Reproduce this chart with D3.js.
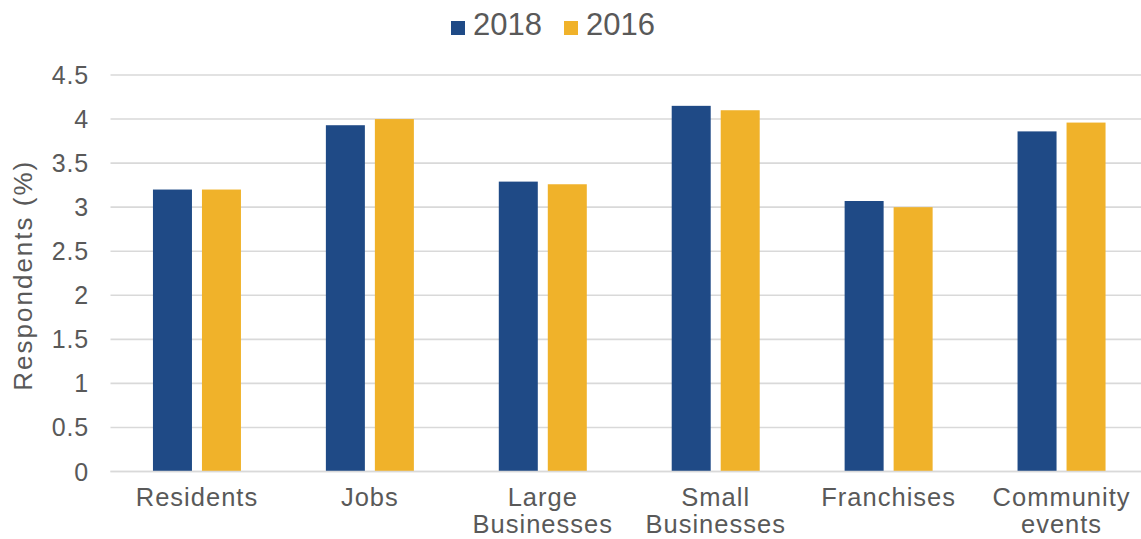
<!DOCTYPE html>
<html>
<head>
<meta charset="utf-8">
<script src="https://cdn.jsdelivr.net/npm/d3@7"></script>
<style>
  html, body { margin: 0; padding: 0; background: #fff; }
  svg { display: block; font-family: "Liberation Sans", Arial, sans-serif; }
</style>
</head>
<body>
<svg id="chart" width="1141" height="539"></svg>
<script>
// Survey categories (multi-line labels split on "\n")
const categories = ["Residents", "Jobs", "Large\nBusinesses", "Small\nBusinesses", "Franchises", "Community\nevents"];
const seriesNames = ["2018", "2016"];
const values2018 = [3.2, 3.93, 3.29, 4.15, 3.07, 3.86];
const values2016 = [3.2, 4.0, 3.26, 4.1, 3.0, 3.96];
const yTicks = [0, 0.5, 1, 1.5, 2, 2.5, 3, 3.5, 4, 4.5];

const colors = { "2018": "#1F4A86", "2016": "#F0B22A" };
const textColor = "#595959";

const svg = d3.select("#chart");
const width = 1141, height = 539;
const plotLeft = 110.5, plotRight = 1148, plotTop = 75, plotBottom = 471.5;

const x = d3.scaleBand()
  .domain(categories)
  .range([plotLeft, plotRight])
  .paddingInner(0)
  .paddingOuter(0);

const y = d3.scaleLinear()
  .domain([0, 4.5])
  .range([plotBottom, plotTop]);

const barW = 39, barGap = 10;
const sub = d3.scaleOrdinal()
  .domain(seriesNames)
  .range([-(barW + barGap / 2), barGap / 2]);

// Gridlines
svg.append("g")
  .selectAll("line")
  .data(yTicks)
  .join("line")
  .attr("x1", plotLeft)
  .attr("x2", width)
  .attr("y1", d => y(d))
  .attr("y2", d => y(d))
  .attr("stroke", "#D9D9D9")
  .attr("stroke-width", 1.6);

// Y tick labels
svg.append("g")
  .selectAll("text")
  .data(yTicks)
  .join("text")
  .attr("x", 89)
  .attr("y", d => y(d))
  .attr("dy", "0.36em")
  .attr("text-anchor", "end")
  .attr("fill", textColor)
  .attr("font-size", 25)
  .attr("letter-spacing", 0.8)
  .text(d => d);

// Y axis title
svg.append("text")
  .attr("transform", `translate(31.5,${(y(0) + y(4.5)) / 2 + 2}) rotate(-90)`)
  .attr("text-anchor", "middle")
  .attr("fill", textColor)
  .attr("font-size", 26)
  .attr("letter-spacing", 2)
  .text("Respondents (%)");

// Bars
const rows = categories.map((c, i) => ({ c, vals: [
  { s: "2018", v: values2018[i] },
  { s: "2016", v: values2016[i] }
]}));

const groups = svg.append("g")
  .selectAll("g")
  .data(rows)
  .join("g")
  .attr("transform", d => `translate(${x(d.c) + x.bandwidth() / 2},0)`);

groups.selectAll("rect")
  .data(d => d.vals)
  .join("rect")
  .attr("x", d => sub(d.s))
  .attr("width", barW)
  .attr("y", d => y(d.v))
  .attr("height", d => y(0) - y(d.v))
  .attr("fill", d => colors[d.s]);

// Baseline on top of bars
svg.append("line")
  .attr("x1", plotLeft)
  .attr("x2", width)
  .attr("y1", y(0))
  .attr("y2", y(0))
  .attr("stroke", "#D9D9D9")
  .attr("stroke-width", 1.6);

// Category labels
const catLabels = svg.append("g")
  .selectAll("text")
  .data(categories)
  .join("text")
  .attr("x", d => x(d) + x.bandwidth() / 2)
  .attr("y", 506)
  .attr("text-anchor", "middle")
  .attr("fill", textColor)
  .attr("font-size", 25.5)
  .attr("letter-spacing", 1);

catLabels.selectAll("tspan")
  .data(d => d.split("\n"))
  .join("tspan")
  .attr("x", function () { return d3.select(this.parentNode).attr("x"); })
  .attr("dy", (d, i) => i === 0 ? 0 : 27)
  .text(d => d);

// Legend
const legend = svg.append("g");
const legendItems = [
  { s: "2018", x: 451 },
  { s: "2016", x: 564 }
];
legend.selectAll("rect")
  .data(legendItems)
  .join("rect")
  .attr("x", d => d.x)
  .attr("y", 21)
  .attr("width", 14)
  .attr("height", 14)
  .attr("fill", d => colors[d.s]);
legend.selectAll("text")
  .data(legendItems)
  .join("text")
  .attr("x", d => d.x + 22)
  .attr("y", 35)
  .attr("fill", textColor)
  .attr("font-size", 31)
  .text(d => d.s);
</script>
</body>
</html>
